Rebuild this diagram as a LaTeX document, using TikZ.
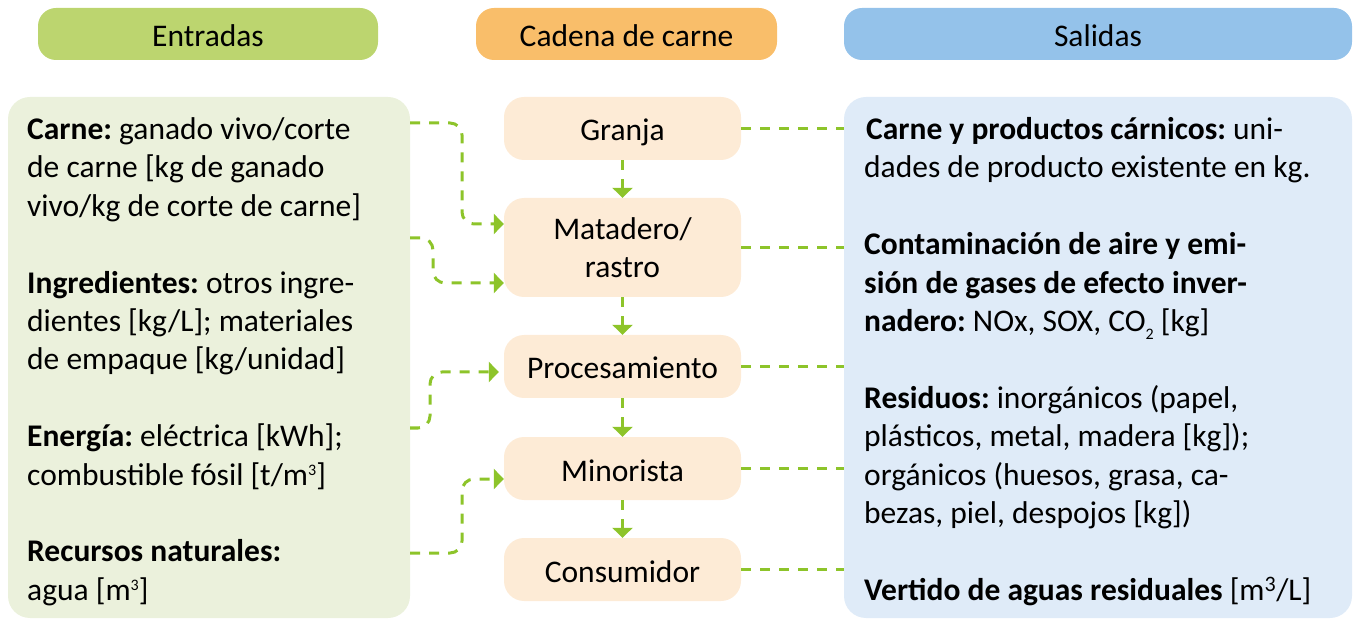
\documentclass[tikz,border=0pt]{standalone}
\usepackage{fontspec}
\setmainfont{Carlito}
\usetikzlibrary{arrows.meta}
\definecolor{hgreen}{HTML}{BCD56F}
\definecolor{horange}{HTML}{F9BE6A}
\definecolor{hblue}{HTML}{94C2EA}
\definecolor{lgreen}{HTML}{EBF1DC}
\definecolor{lblue}{HTML}{DFEBF8}
\definecolor{lorange}{HTML}{FDEBD6}
\definecolor{conncol}{HTML}{8DC42A}
\newcommand{\supthree}{\raisebox{10pt}{\fontsize{16}{16}\selectfont 3}}
\newcommand{\subtwo}{\raisebox{-8pt}{\fontsize{16}{16}\selectfont 2}}
\begin{document}
\begin{tikzpicture}[x=1pt,y=-1pt,
  txt/.style={font=\fontsize{31.5}{38.4}\selectfont\frenchspacing},
  header/.style={rounded corners=18pt, minimum height=52pt, inner sep=0pt, text height=26pt, text depth=0pt, txt},
  panel/.style={rounded corners=22pt, minimum height=521pt, inner sep=0pt},
  stage/.style={fill=lorange, rounded corners=20pt, minimum width=237pt, inner sep=0pt, align=center, txt},
  single/.style={minimum height=63pt, text height=25pt, text depth=0pt},
  connline/.style={draw=conncol, line width=3pt, dash pattern=on 10pt off 9pt},
  flow/.style={connline, -{Triangle[width=20pt,length=10pt]}, rounded corners=12pt},
  para/.style={anchor=north west, inner sep=0pt, align=left, txt}
]
\useasboundingbox (0,0) rectangle (1353,620);

% headers
\node[header, fill=hgreen, minimum width=340pt] (hin) at (208,34) {Entradas};
\node[header, fill=horange, minimum width=301pt] (hch) at (626.5,34) {Cadena de carne};
\node[header, fill=hblue, minimum width=508pt] (hout) at (1098,34) {Salidas};

% panels
\node[panel, fill=lgreen, minimum width=402pt] (lbox) at (209,357.5) {};
\node[panel, fill=lblue, minimum width=508pt] (rbox) at (1098,357.5) {};

% panel texts
\node[para] (ltext) at (27,112.4) {\strut\textbf{Carne:} ganado vivo/corte\\
de carne [kg de ganado\\
vivo/kg de corte de carne]\\[38.4pt]
\textbf{Ingredientes:} otros ingre-\\
dientes [kg/L]; materiales\\
de empaque [kg/unidad]\\[38.4pt]
\textbf{Energía:} eléctrica [kWh];\\
combustible fósil [t/m\supthree]\\[38.4pt]
\textbf{Recursos naturales:}\\
agua [m\supthree]};

\node[para] (rtext) at (864,112.4) {\strut\hspace{2pt}\textbf{Carne y productos cárnicos:} uni-\\
dades de producto existente en kg.\\[38.4pt]
\textbf{Contaminación de aire y emi-}\\
\textbf{sión de gases de efecto inver-}\\
\textbf{nadero:} NOx, SOX, CO\subtwo{} [kg]\\[38.4pt]
\textbf{Residuos:} inorgánicos (papel,\\
plásticos, metal, madera [kg]);\\
orgánicos (huesos, grasa, ca-\\
bezas, piel, despojos [kg])\\[38.4pt]
\textbf{Vertido de aguas residuales} [m\textsuperscript{3}/L]};

% chain stages
\node[stage, single] (gr) at (622.5,128.5) {Granja};
\node[stage, minimum height=99pt] (mat) at (622.5,247.5) {Matadero/\\rastro};
\node[stage, single] (proc) at (622.5,366.5) {Procesamiento};
\node[stage, single] (mino) at (622.5,468.5) {Minorista};
\node[stage, single] (cons) at (622.5,569.5) {Consumidor};

% chain arrows
\draw[flow] (gr.south) -- (mat.north);
\draw[flow] (mat.south) -- (proc.north);
\draw[flow] (proc.south) -- (mino.north);
\draw[flow] (mino.south) -- (cons.north);

% inputs
\coordinate (c1) at (410,123);
\coordinate (c2) at (410,238);
\coordinate (c3) at (410,428);
\coordinate (c4) at (410,553);
\draw[flow] (c1) -| (462,224) -- ([yshift=23.5pt]mat.west);
\draw[flow] (c2) -| (433,283) -- ([yshift=-35.5pt]mat.west);
\draw[flow] (c3) -| (430,372) -- ([xshift=-5pt,yshift=-5.5pt]proc.west);
\draw[flow] (c4) -| (462,479) -- ([yshift=-10.5pt]mino.west);

% outputs
\draw[connline] (gr.east) -- (gr.east -| rbox.west);
\draw[connline] (mat.east) -- (mat.east -| rbox.west);
\draw[connline] (proc.east) -- (proc.east -| rbox.west);
\draw[connline] (mino.east) -- (mino.east -| rbox.west);
\draw[connline] (cons.east) -- (cons.east -| rbox.west);
\end{tikzpicture}
\end{document}
